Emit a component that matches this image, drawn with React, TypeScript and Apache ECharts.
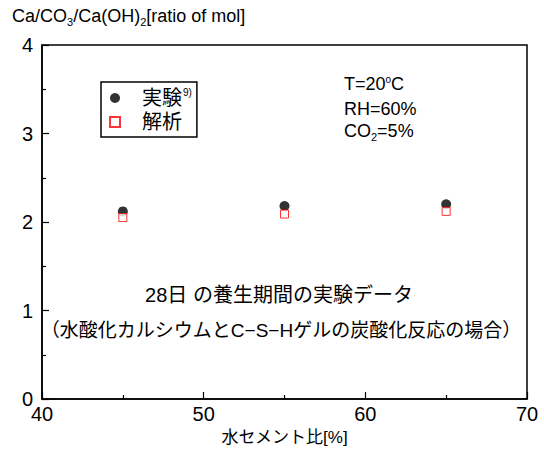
import React, { useEffect, useRef } from "react";
import * as echarts from "echarts";

const wcRatio = [45, 55, 65];
const experiment = [2.12, 2.18, 2.2];
const analysis = [2.05, 2.09, 2.12];
const xTicks = [40, 50, 60, 70];
const yTicks = [0, 1, 2, 3, 4];

const FONT = "'Liberation Sans', 'Noto Sans CJK JP', Arial, sans-serif";

export default function App() {
  const ref = useRef<HTMLDivElement>(null);
  useEffect(() => {
    document.body.style.margin = "0";
    const chart = echarts.init(ref.current!, null, { renderer: "svg" });
    const expData = wcRatio.map((x, i) => [x, experiment[i]]);
    const anaData = wcRatio.map((x, i) => [x, analysis[i]]);
    chart.setOption({
      animation: false,
      backgroundColor: "#fff",
      textStyle: { fontFamily: FONT, color: "#000" },
      grid: {
        left: 42,
        right: 17,
        top: 45,
        bottom: 50,
        show: true,
        borderColor: "#000",
        borderWidth: 1.5,
        backgroundColor: "transparent",
      },
      xAxis: {
        type: "value",
        min: xTicks[0],
        max: xTicks[xTicks.length - 1],
        interval: 10,
        name: "水セメント比[%]",
        nameLocation: "middle",
        nameGap: 30,
        nameTextStyle: { fontSize: 17, color: "#000", fontFamily: FONT },
        axisLine: { show: true, lineStyle: { color: "#000", width: 1.5 } },
        axisTick: { show: true, inside: true, length: 7, lineStyle: { color: "#000", width: 1.2 } },
        minorTick: { show: true, splitNumber: 2, length: 4, lineStyle: { color: "#000", width: 1.2 } },
        axisLabel: { fontSize: 20, color: "#000", margin: 5, fontFamily: FONT },
        splitLine: { show: false },
      },
      yAxis: {
        type: "value",
        min: yTicks[0],
        max: yTicks[yTicks.length - 1],
        interval: 1,
        axisLine: { show: true, lineStyle: { color: "#000", width: 1.5 } },
        axisTick: { show: true, inside: true, length: 7, lineStyle: { color: "#000", width: 1.2 } },
        minorTick: { show: true, splitNumber: 2, length: 4, lineStyle: { color: "#000", width: 1.2 } },
        axisLabel: { fontSize: 20, color: "#000", margin: 9, fontFamily: FONT },
        splitLine: { show: false },
      },
      legend: {
        orient: "vertical",
        left: 101,
        top: 82,
        padding: [5, 5, 5, 8],
        borderColor: "#000",
        borderWidth: 1.5,
        itemWidth: 10,
        itemHeight: 10,
        itemGap: 4,
        data: ["実験", "解析"],
        formatter: (name: string) => (name === "実験" ? "{a|実験}{s|9)}" : "{a|解析}"),
        textStyle: {
          fontFamily: FONT,
          color: "#000",
          rich: {
            a: { fontSize: 20, padding: [0, 0, 0, 17], color: "#000", fontFamily: FONT },
            s: { fontSize: 10, padding: [0, 0, 12, 1], color: "#000", fontFamily: FONT },
          },
        },
      },
      series: [
        {
          name: "実験",
          type: "scatter",
          data: expData,
          symbol: "circle",
          symbolSize: 10,
          itemStyle: { color: "#000" },
          z: 2,
        },
        {
          name: "解析",
          type: "scatter",
          data: anaData,
          symbol: "rect",
          symbolSize: 8,
          itemStyle: { color: "#fff", borderColor: "#ff0000", borderWidth: 1 },
          z: 3,
        },
      ],
      graphic: [
        {
          type: "text",
          left: 12,
          top: 7,
          style: {
            text: "Ca/CO{sub|3}/Ca(OH){sub|2}[ratio of mol]",
            fontSize: 18,
            fontFamily: FONT,
            fill: "#000",
            rich: {
              sub: { fontSize: 11, padding: [13, 0, 0, 0], fontFamily: FONT, fill: "#000" },
            },
          },
        },
        {
          type: "text",
          left: 344,
          top: 74,
          style: {
            text: "T=20{sup|o}C",
            fontSize: 18,
            fontFamily: FONT,
            fill: "#000",
            rich: { sup: { fontSize: 10, padding: [0, 0, 11, 0], fontFamily: FONT, fill: "#000" } },
          },
        },
        {
          type: "text",
          left: 344,
          top: 100,
          style: { text: "RH=60%", fontSize: 18, fontFamily: FONT, fill: "#000" },
        },
        {
          type: "text",
          left: 344,
          top: 122,
          style: {
            text: "CO{sub|2}=5%",
            fontSize: 18,
            fontFamily: FONT,
            fill: "#000",
            rich: { sub: { fontSize: 11, padding: [13, 0, 0, 0], fontFamily: FONT, fill: "#000" } },
          },
        },
        {
          type: "text",
          x: 279,
          y: 295,
          style: {
            text: "28日 の養生期間の実験データ",
            fontSize: 20,
            fontFamily: FONT,
            fill: "#000",
            align: "center",
            verticalAlign: "middle",
          },
        },
        {
          type: "text",
          x: 281,
          y: 330,
          style: {
            text: "（水酸化カルシウムとC−S−Hゲルの炭酸化反応の場合）",
            fontSize: 19,
            fontFamily: FONT,
            fill: "#000",
            align: "center",
            verticalAlign: "middle",
          },
        },
      ],
    });
    return () => chart.dispose();
  }, []);
  return <div ref={ref} style={{ width: 544, height: 451 }} />;
}
